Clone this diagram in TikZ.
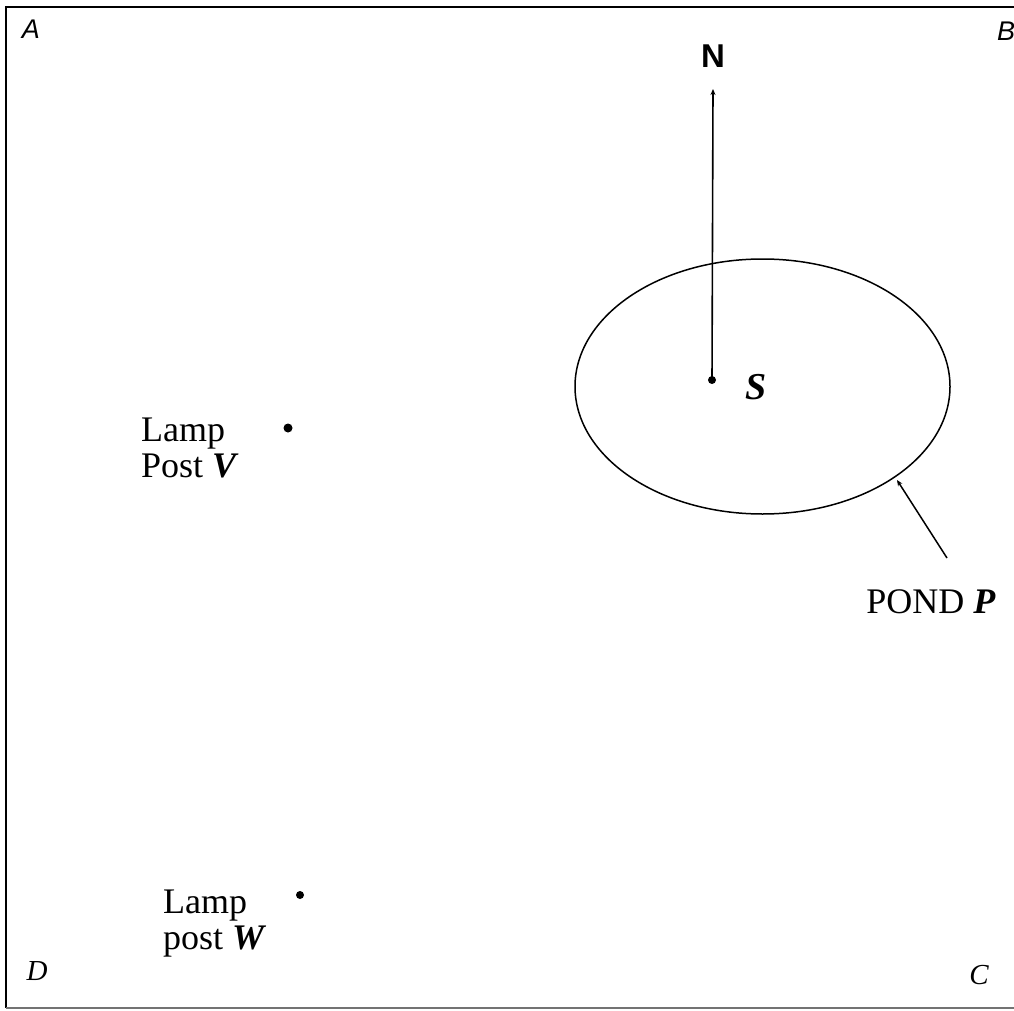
\documentclass[tikz,border=0pt]{standalone}
\usepackage{fontspec}
\setmainfont{Liberation Serif}
\setsansfont{Liberation Sans}
\usetikzlibrary{arrows.meta}
\begin{document}
\begin{tikzpicture}[x=1pt,y=-1pt,
  lbl/.style={inner sep=0pt,font=\fontsize{36}{36}\selectfont},
  corner/.style={inner sep=0pt,font=\fontsize{27}{28}\selectfont\sffamily\itshape},
  cornerserif/.style={inner sep=0pt,font=\fontsize{29}{30}\selectfont\itshape},
  pt/.style={circle,fill=black,inner sep=0pt,minimum size=9pt}]
\useasboundingbox (0,0) rectangle (1014,1011);
% border
\draw[line width=2.2pt] (1016,7) -- (6,7) -- (6,1008);
\draw[line width=1.2pt,black!55] (6,1008) -- (1016,1008);
% corner labels
\node[corner] (A) at (31,29) {A};
\node[corner] (B) at (1006,31) {B};
\node[cornerserif] (D) at (37,971) {D};
\node[cornerserif] (C) at (979,975) {C};
% north
\node[inner sep=0pt,font=\fontsize{33}{34}\selectfont\sffamily\bfseries] (N) at (713,56) {N};
\node[pt,minimum size=8pt] (S) at (712,380) {};
\coordinate (Ntip) at (713,89);
\draw[line width=1.6pt,-{Stealth[length=6pt,width=5pt]}] (S.center) -- (Ntip);
\node[inner sep=0pt,font=\fontsize{38}{38}\selectfont\bfseries\itshape] (Slab) at (756,387) {S};
% pond
\draw[line width=1.5pt] (762.5,386.5) ellipse [x radius=187.5, y radius=127.5];
\coordinate (Pedge) at (897,480);
\coordinate (Pend) at (947,558);
\draw[line width=1.5pt,-{Stealth[length=6pt,width=5pt]}] (Pend) -- (Pedge);
\node[lbl,anchor=base] (P) at (931,613) {POND \textbf{\textit{P}}};
% lamp posts
\node[pt] (V) at (288,428) {};
\node[lbl,anchor=west,align=left] (Vlab) at (141,448) {Lamp\\Post \textbf{\textit{V}}};
\node[pt,minimum size=8pt] (W) at (300,895) {};
\node[lbl,anchor=west,align=left] (Wlab) at (163,924) {Lamp\\post \textbf{\textit{W}}};
\end{tikzpicture}
\end{document}
